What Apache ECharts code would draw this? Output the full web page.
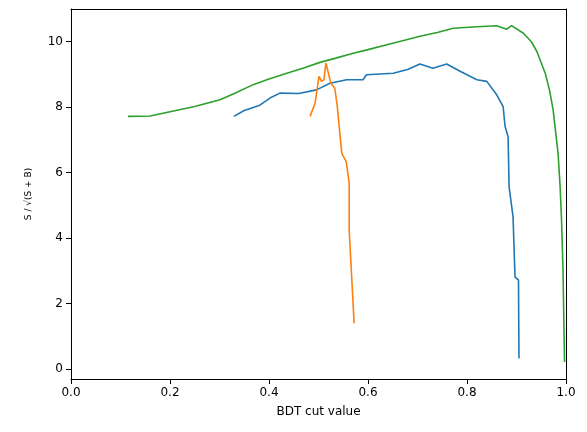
<!DOCTYPE html>
<html>
<head>
<meta charset="utf-8">
<script src="https://cdn.jsdelivr.net/npm/echarts@6/dist/echarts.min.js"></script>
</head>
<body style="margin:0">
<div id="main" style="width:587px;height:432px;"></div>
<script>
// x = BDT cut, y = significance
var blue = [[.329,7.72],[.35,7.9],[.38,8.05],[.402,8.28],[.422,8.43],[.46,8.42],[.496,8.53],[.523,8.73],[.557,8.84],[.590,8.84],[.597,8.99],[.651,9.04],[.68,9.15],[.705,9.32],[.731,9.19],[.759,9.32],[.786,9.10],[.820,8.84],[.840,8.79],[.860,8.38],[.873,8.02],[.877,7.41],[.883,7.10],[.885,5.57],[.893,4.66],[.897,2.82],[.904,2.72],[.905,0.33]];
var orange = [[.483,7.72],[.493,8.12],[.501,8.94],[.506,8.79],[.511,8.84],[.515,9.35],[.518,9.37],[.525,8.73],[.533,8.58],[.538,8.02],[.547,6.59],[.556,6.34],[.562,5.68],[.562,4.25],[.567,2.82],[.572,1.40]];
var green = [[.115,7.72],[.16,7.73],[.2,7.86],[.25,8.02],[.301,8.23],[.33,8.42],[.368,8.69],[.4,8.86],[.436,9.04],[.47,9.2],[.503,9.37],[.535,9.5],[.570,9.65],[.6,9.76],[.638,9.91],[.67,10.03],[.705,10.17],[.74,10.28],[.772,10.41],[.82,10.46],[.860,10.49],[.880,10.38],[.890,10.49],[.914,10.26],[.93,10.0],[.941,9.71],[.958,9.04],[.967,8.5],[.974,7.92],[.984,6.59],[.988,5.6],[.991,4.56],[.994,3.0],[.997,0.22]];
var yTicks = [0,2,4,6,8,10];

var chart = echarts.init(document.getElementById('main'));
function line(d, c) {
  return {type:'line', data:d, showSymbol:false, lineStyle:{color:c, width:1.6}, itemStyle:{color:c}};
}
var frame = {show:true, onZero:false, lineStyle:{color:'#000'}};
chart.setOption({
  animation:false,
  grid:{left:71, right:21, top:9, bottom:53},
  xAxis:[{type:'value', min:0, max:1, interval:0.2, name:'BDT cut value', nameLocation:'middle', nameGap:27,
    nameTextStyle:{color:'#000', fontSize:12, fontFamily:'DejaVu Sans'},
    axisLine:frame, axisTick:{lineStyle:{color:'#000'}},
    axisLabel:{color:'#000', fontFamily:'DejaVu Sans', fontSize:12, formatter:function(v){return v.toFixed(1);}},
    splitLine:{show:false}},
    {type:'value', position:'top', min:0, max:1, axisLine:frame, axisTick:{show:false}, axisLabel:{show:false}, splitLine:{show:false}}],
  yAxis:[{type:'value', min:-0.3, max:11, name:'S / √(S + B)', nameLocation:'middle', nameGap:38,
    nameTextStyle:{color:'#000', fontSize:9, fontFamily:'DejaVu Sans'},
    axisLine:frame,
    axisTick:{show:true, customValues:yTicks, lineStyle:{color:'#000'}},
    axisLabel:{customValues:yTicks, color:'#000', fontFamily:'DejaVu Sans', fontSize:12},
    splitLine:{show:false}},
    {type:'value', position:'right', min:-0.3, max:11, axisLine:frame, axisTick:{show:false}, axisLabel:{show:false}, splitLine:{show:false}}],
  series:[line(blue,'#1f77b4'), line(orange,'#ff7f0e'), line(green,'#2ca02c')]
});
</script>
</body>
</html>
